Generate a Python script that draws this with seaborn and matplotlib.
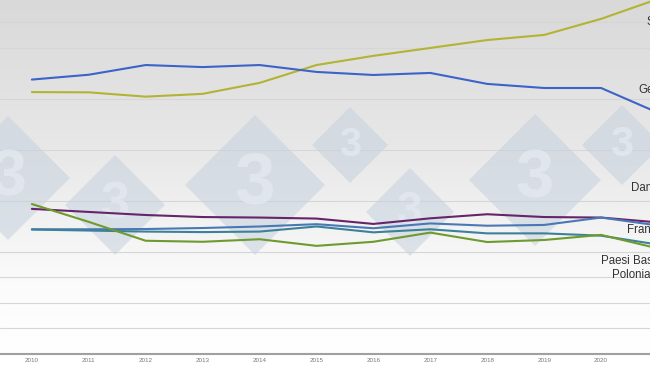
import matplotlib
matplotlib.use('Agg')
import matplotlib.pyplot as plt
from matplotlib.colors import LinearSegmentedColormap
from matplotlib.patches import RegularPolygon
from matplotlib.transforms import IdentityTransform
import seaborn as sns
import pandas as pd
import numpy as np

# Data (one grid step = 1 unit)
years = list(range(2010, 2022))
spagna = [10.27, 10.26, 10.09, 10.20, 10.63, 11.33, 11.69, 12.00, 12.31, 12.51, 13.14, 13.92]
germania = [10.76, 10.95, 11.33, 11.25, 11.33, 11.06, 10.94, 11.02, 10.59, 10.43, 10.43, 9.46]
danimarca = [5.69, 5.57, 5.45, 5.37, 5.35, 5.31, 5.10, 5.32, 5.48, 5.37, 5.35, 5.16]
francia = [4.89, 4.89, 4.90, 4.94, 5.00, 5.09, 4.93, 5.12, 5.03, 5.06, 5.35, 5.04]
paesi_bassi = [4.88, 4.84, 4.80, 4.78, 4.80, 5.00, 4.77, 4.89, 4.73, 4.73, 4.64, 4.29]
polonia = [5.88, 5.18, 4.44, 4.40, 4.50, 4.24, 4.40, 4.76, 4.39, 4.47, 4.67, 4.14]

countries = ['Spagna', 'Germania', 'Danimarca', 'Francia', 'Paesi Bassi', 'Polonia']
colors = {'Spagna': '#b3b334', 'Germania': '#3d63c9', 'Danimarca': '#66246a',
          'Francia': '#4a78b5', 'Paesi Bassi': '#3b8299', 'Polonia': '#6e9a2e'}

# labels on the right edge (text, x, y, alignment) - cut by the frame like the original
labels = [('Spagna', 2020.79, 13.02, 'left'), ('Germania', 2020.65, 10.35, 'left'),
          ('Danimarca', 2020.53, 6.51, 'left'), ('Francia', 2020.46, 4.86, 'left'),
          ('Paesi Bassi\nPolonia', 2020.53, 3.37, 'center')]
grid_levels = [1, 2, 3, 4, 6, 8, 10, 12, 13]
tick_years = list(range(2010, 2021))

df = pd.DataFrame({'anno': years, 'Spagna': spagna, 'Germania': germania,
                   'Danimarca': danimarca, 'Francia': francia,
                   'Paesi Bassi': paesi_bassi, 'Polonia': polonia})
df = df.melt(id_vars='anno', var_name='paese', value_name='valore')

sns.set_style('white')
plt.rcParams['font.family'] = ['Liberation Sans', 'DejaVu Sans']

fig = plt.figure(figsize=(6.5, 3.66), dpi=100)
ax = fig.add_axes([0, 12 / 366, 1, 354 / 366])

x0, x1 = 2009.44, 2020.86
y0, y1 = 0, 13.88

# grey background gradient, darker at the top
cmap = LinearSegmentedColormap.from_list('bg', [(0, '#d9d9d9'), (0.45, '#e9e9e9'),
                                                (0.8, '#fbfbfb'), (1, '#ffffff')])
ax.imshow(np.linspace(0, 1, 256).reshape(-1, 1), extent=[x0, x1, y0, y1],
          aspect='auto', cmap=cmap, zorder=0)

# faint watermark diamonds
marks = [(8, 178, 62), (115, 205, 50), (255, 185, 70), (350, 145, 38),
         (410, 212, 44), (535, 180, 66), (622, 145, 40)]
for cx, cy, r in marks:
    ax.add_patch(RegularPolygon((cx, 366 - cy), 4, radius=r, orientation=0,
                                transform=IdentityTransform(), facecolor='#c6d1dd',
                                alpha=0.55, edgecolor='none', zorder=1))
    ax.text(cx, 366 - cy, '3', transform=IdentityTransform(), ha='center', va='center',
            fontsize=r * 0.75, fontweight='bold', color='#e3e9ef', alpha=0.8, zorder=1.1)

sns.lineplot(data=df, x='anno', y='valore', hue='paese', hue_order=countries,
             palette=colors, linewidth=1.5, legend=False, ax=ax, zorder=3)

for text, lx, ly, align in labels:
    ax.text(lx, ly, text, fontsize=8.3, color='#333333', ha=align, va='center',
            multialignment='center', clip_on=False, zorder=4)

ax.set_xlim(x0, x1)
ax.set_ylim(y0, y1)
ax.set_yticks(grid_levels)
ax.set_xticks(tick_years)
ax.set_xticklabels([str(y) for y in tick_years])
ax.tick_params(axis='y', left=False, labelleft=False)
ax.tick_params(axis='x', length=0, pad=3, labelsize=4.5, labelcolor='#777777')
ax.grid(axis='y', color='#d6d6d6', linewidth=0.8)
ax.set_axisbelow(True)
ax.set_xlabel('')
ax.set_ylabel('')
for side in ['top', 'left', 'right']:
    ax.spines[side].set_visible(False)
ax.spines['bottom'].set_color('#a0a0a0')
ax.spines['bottom'].set_linewidth(1.5)

fig.savefig('out.png', dpi=100)
